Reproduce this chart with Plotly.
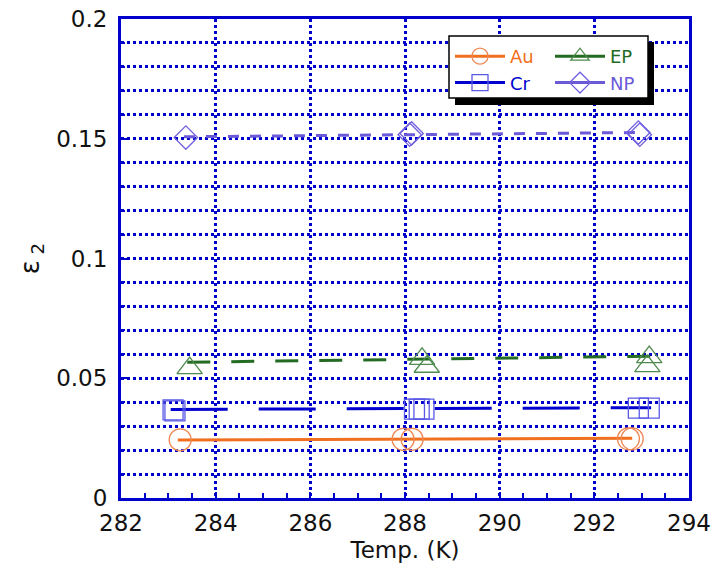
import plotly.graph_objects as go

# ---- data ----
au_x = [283.25, 287.96, 288.15, 292.72, 292.80]
au_y = [0.0243, 0.0245, 0.0245, 0.0247, 0.0247]
au_fit_x = [283.2, 292.8]
au_fit_y = [0.0242, 0.0249]

cr_x = [283.10, 283.14, 288.20, 288.30, 288.40, 292.93, 293.16]
cr_y = [0.0368, 0.0364, 0.0371, 0.0371, 0.0371, 0.0375, 0.0375]
cr_fit_x = [283.05, 293.2]
cr_fit_y = [0.0370, 0.0377]

ep_x = [283.45, 288.36, 288.46, 293.12, 293.16]
ep_y = [0.0542, 0.0581, 0.0548, 0.0551, 0.0588]
ep_fit_x = [283.4, 293.2]
ep_fit_y = [0.0567, 0.0592]

np_x = [283.37, 288.10, 288.14, 292.93, 292.96]
np_y = [0.1505, 0.1517, 0.1522, 0.1526, 0.1517]
np_fit_x = [283.33, 292.9]
np_fit_y = [0.1508, 0.1526]

x_range = [282, 294]
y_range = [0, 0.2]

AXIS = "#0000cc"
FONT = "DejaVu Sans"

PL, PR, PT, PB = 121, 689, 19, 498  # plot area in page pixels
W, H = 714, 570

def px(xp):
    return (xp - PL) / (PR - PL)

def py(yp):
    return (PB - yp) / (PB - PT)

series = [
    ("Au", au_x, au_y, au_fit_x, au_fit_y, "#f07020", "#f08a55", "circle-open", 22, "solid", "legend"),
    ("Cr", cr_x, cr_y, cr_fit_x, cr_fit_y, "#0000d0", "#5a5ae6", "square-open", 20, "57px,31px", "legend"),
    ("EP", ep_x, ep_y, ep_fit_x, ep_fit_y, "#236b23", "#4f8a4f", "triangle-up-open", 22, "23px,21px", "legend2"),
    ("NP", np_x, np_y, np_fit_x, np_fit_y, "#6a5ad8", "#7060e0", "diamond-open", 18, "11px,11px", "legend2"),
]

fig = go.Figure()
for name, xs, ys, fx, fy, lc, mc, sym, sz, dash, lg in series:
    fig.add_trace(go.Scatter(
        x=fx, y=fy, mode="lines", line=dict(color=lc, width=3, dash=dash),
        showlegend=False, hoverinfo="skip"))
    fig.add_trace(go.Scatter(
        x=xs, y=ys, mode="markers",
        marker=dict(symbol=sym, size=sz, color=mc, line=dict(color=mc, width=1.3)),
        showlegend=False))
    fig.add_trace(go.Scatter(
        x=[None], y=[None], mode="lines+markers",
        name=f"<span style='color:{lc}'>{name}</span>",
        line=dict(color=lc, width=3),
        marker=dict(symbol=sym, size=sz, color=mc, line=dict(color=mc, width=1.3)),
        legend=lg))

# legend box with shadow
fig.add_shape(type="rect", xref="paper", yref="paper",
              x0=px(455), x1=px(654), y0=py(105), y1=py(42),
              fillcolor="black", line=dict(width=0), layer="above")
fig.add_shape(type="rect", xref="paper", yref="paper",
              x0=px(449), x1=px(648), y0=py(98), y1=py(36),
              fillcolor="white", line=dict(color="black", width=1.5), layer="above")

legend_common = dict(
    bgcolor="rgba(0,0,0,0)", borderwidth=0,
    font=dict(family=FONT, size=18),
    xanchor="left", yanchor="top", itemwidth=50,
    tracegroupgap=0,
)
fig.update_layout(
    legend=dict(x=px(450), y=py(38), **legend_common),
    legend2=dict(x=px(550), y=py(38), **legend_common),
)

fig.update_xaxes(
    range=x_range, dtick=2, tick0=282,
    showline=True, mirror=True, linecolor=AXIS, linewidth=3,
    showgrid=True, gridcolor=AXIS, gridwidth=3, griddash="dot",
    ticks="inside", ticklen=6, tickcolor=AXIS, tickwidth=1.5,
    minor=dict(dtick=0.5, ticks="inside", ticklen=5, tickcolor=AXIS, showgrid=False),
    tickfont=dict(family=FONT, size=23, color="#111111"),
    ticklabelstandoff=2, ticklabeloverflow="allow",
    zeroline=False,
    title=dict(text="Temp. (K)", font=dict(family=FONT, size=23, color="#111111"), standoff=8),
)
fig.update_yaxes(
    range=y_range, dtick=0.05, tick0=0,
    showline=True, mirror=True, linecolor=AXIS, linewidth=3,
    showgrid=True, gridcolor=AXIS, gridwidth=3, griddash="dot",
    ticks="inside", ticklen=6, tickcolor=AXIS, tickwidth=1.5,
    minor=dict(dtick=0.01, ticks="inside", ticklen=4, tickcolor=AXIS,
               showgrid=True, gridcolor=AXIS, gridwidth=3, griddash="dot"),
    tickfont=dict(family=FONT, size=23, color="#111111"),
    ticklabelstandoff=6, ticklabeloverflow="allow",
    zeroline=False,
    title=dict(text="ε<sub> 2</sub>", font=dict(family=FONT, size=26, color="#111111"), standoff=10),
)

fig.update_layout(
    width=W, height=H,
    margin=dict(l=PL, r=W - PR, t=PT, b=H - PB, autoexpand=False),
    paper_bgcolor="white", plot_bgcolor="white",
)

fig.write_html(
    "out.html",
    config={"displayModeBar": False},
    post_script="document.body.style.margin='0';document.body.style.overflow='hidden';",
)
